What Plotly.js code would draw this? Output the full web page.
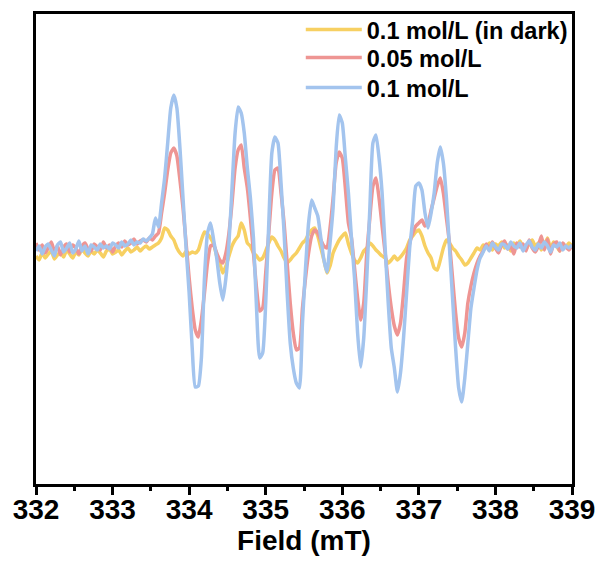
<!DOCTYPE html>
<html>
<head>
<meta charset="utf-8">
<script src="https://cdn.plot.ly/plotly-3.0.1.min.js"></script>
<style>html,body{margin:0;padding:0;background:#fff}#chart{width:603px;height:564px}</style>
</head>
<body>
<div id="chart"></div>
<script>
// Field axis: 332 to 339 mT, step 0.04 mT (176 points)
const fieldStart = 332;
const fieldStep = 0.04;
const seriesNames = ["0.1 mol/L (in dark)", "0.05 mol/L", "0.1 mol/L"];
const tickValues = [332, 333, 334, 335, 336, 337, 338, 339];

const darkValues = [
-8,-12,-5,-10,-6,-3,-11,-7,-4,-9,-2,-6,-10,-4,-7,-1,-5,-8,-3,-6,-2,-5,-9,-3,-1,-6,-4,-2,-7,-3,0,-4,-2,1,-3,0,2,-1,
1,3,5,10,20,18,12,8,0,-5,-8,-3,-6,-4,-5,-2,8,16,14,10,4,-8,-15,-25,-18,-8,2,8,12,25,18,5,2,-5,-8,-12,-10,-3,5,11,8,2,-3,-10,-15,-12,-8,-5,0,5,8,14,18,20,12,0,-12,-25,-18,-5,2,8,12,15,4,-5,-12,-15,-10,-3,0,5,2,-2,-5,-8,-10,-15,-12,-8,-12,-9,-5,0,8,12,16,18,12,2,-5,-10,-20,-22,-12,0,8,5,0,-3,-8,-12,-17,-15,-10,-5,0,-2,3,
1,5,-2,4,2,6,0,3,-3,5,2,7,1,-1,4,8,2,5,-2,3,10,0,6,2,-3,4,1,5,2
];
const halfValues = [
5,-2,3,-5,0,6,-3,2,-7,1,4,-4,3,0,-6,2,5,-1,-3,4,1,-2,6,0,3,-4,2,5,1,7,3,5,9,4,7,8,6,10,
8,12,15,35,55,78,95,100,92,68,40,5,-30,-60,-82,-89,-72,-45,-15,2,3,-5,-12,-15,-5,15,45,80,98,103,80,60,30,-5,-40,-63,-60,-25,15,55,78,80,55,25,-15,-55,-85,-102,-100,-60,-30,-5,12,18,15,8,2,0,20,50,85,96,90,60,25,10,-20,-50,-72,-55,-5,30,62,70,50,22,-5,-35,-60,-78,-87,-75,-45,-10,5,15,22,25,28,22,25,38,50,62,70,55,30,5,-30,-65,-90,-99,-85,-55,-38,-25,-15,-8,-3,
4,-2,6,0,-5,3,7,-1,2,-6,5,1,4,-3,8,0,-4,2,12,-2,9,-6,4,6,-3,5,1,-2,3
];
const fullValues = [
-3,2,-6,1,4,-2,-8,3,6,-4,0,5,-5,-1,7,-3,2,-6,3,1,-2,4,0,2,-1,5,3,0,6,2,4,8,3,6,5,9,7,10,
14,30,21,45,70,105,140,153,140,100,50,0,-45,-100,-139,-138,-110,-30,15,25,8,-10,-35,-52,-30,5,60,115,141,135,115,80,50,10,-60,-110,-105,-55,25,95,111,105,65,15,-45,-95,-120,-135,-140,-75,-20,25,48,40,32,10,-12,-24,5,40,100,133,125,90,55,10,-30,-85,-119,-90,-30,40,105,113,90,55,0,-55,-100,-120,-144,-125,-90,-45,0,28,62,65,58,35,20,35,55,85,101,85,50,0,-50,-100,-140,-154,-130,-95,-60,-40,-22,-10,-4,
2,-3,5,1,-2,4,3,-1,6,2,0,5,-3,3,7,1,-2,4,0,6,2,-4,3,1,5,-2,2,0,3
];

const fieldValues = darkValues.map((_, i) => +(fieldStart + i * fieldStep).toFixed(2));
const colors = ["#F7D062", "#EE9593", "#A3C4EE"];
const legendIds = ["legend", "legend2", "legend3"];

const traces = [darkValues, halfValues, fullValues].map((vals, k) => ({
  x: fieldValues,
  y: vals,
  type: "scatter",
  mode: "lines",
  name: seriesNames[k],
  legend: legendIds[k],
  line: {color: colors[k], width: 3.5, shape: "spline", smoothing: 0.5}
}));

const font = {family: "Liberation Sans, Arial, sans-serif", color: "#000"};
const legendRowY = [1.0136, 0.954, 0.890];

const layout = {
  width: 603, height: 564,
  margin: {l: 36, r: 31, t: 14, b: 80, autoexpand: false},
  paper_bgcolor: "#fff", plot_bgcolor: "#fff",
  showlegend: true,
  xaxis: {
    range: [332, 339],
    tickvals: tickValues,
    ticktext: tickValues.map(String),
    ticks: "outside", ticklen: 8, tickwidth: 3, tickcolor: "#000",
    ticklabelstandoff: -10,
    minor: {dtick: 0.5, ticks: "outside", ticklen: 4, tickwidth: 3, tickcolor: "#000"},
    showline: true, linewidth: 3, linecolor: "#000", mirror: true,
    showgrid: false, zeroline: false, automargin: false,
    tickfont: Object.assign({}, font, {size: 28, weight: "bold"}),
    title: {text: "Field (mT)", font: Object.assign({}, font, {size: 28, weight: "bold"}), standoff: 7}
  },
  yaxis: {
    range: [-236, 234],
    showticklabels: false, ticks: "",
    showline: true, linewidth: 3, linecolor: "#000", mirror: true,
    showgrid: false, zeroline: false, automargin: false
  }
};
legendIds.forEach((id, k) => {
  layout[id] = {
    x: 0.494, xanchor: "left", y: legendRowY[k], yanchor: "top",
    bgcolor: "rgba(0,0,0,0)", borderwidth: 0,
    font: Object.assign({}, font, {size: 23.5, weight: "bold"}),
    itemwidth: 56
  };
});

Plotly.newPlot("chart", traces, layout, {staticPlot: true, displayModeBar: false});
</script>
</body>
</html>
